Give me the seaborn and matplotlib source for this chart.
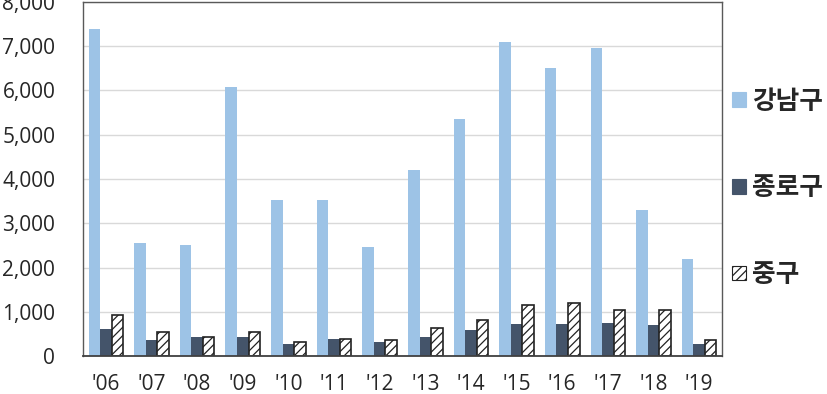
import pandas as pd
import matplotlib.pyplot as plt
import seaborn as sns

years = ["'06", "'07", "'08", "'09", "'10", "'11", "'12",
         "'13", "'14", "'15", "'16", "'17", "'18", "'19"]
districts = ["강남구", "종로구", "중구"]
gangnam = [7400, 2560, 2500, 6070, 3530, 3530, 2460, 4210, 5360, 7100, 6510, 6950, 3290, 2200]
jongno = [600, 370, 425, 430, 280, 390, 310, 430, 580, 730, 730, 755, 695, 280]
junggu = [930, 550, 425, 550, 310, 390, 365, 625, 810, 1160, 1190, 1045, 1045, 365]
colors = ["#9DC3E6", "#44546A", "#FFFFFF"]

df = pd.DataFrame({
    "year": years * 3,
    "district": [d for d in districts for _ in years],
    "value": gangnam + jongno + junggu,
})

sns.set_theme(style="white")
plt.rcParams["font.family"] = ["Open Sans", "Noto Sans CJK KR", "DejaVu Sans"]
plt.rcParams["hatch.color"] = "#333333"
plt.rcParams["hatch.linewidth"] = 0.9

fig = plt.figure(figsize=(8.27, 3.94), dpi=100)
ax = fig.add_axes([0.1004, 0.0964, 0.7726, 0.8986])

sns.barplot(data=df, x="year", y="value", hue="district", hue_order=districts,
            palette=colors, width=0.76, saturation=1, errorbar=None, ax=ax,
            linewidth=0, legend=False)

# 중구: hatched white bars with dark outline
for bar in ax.containers[2]:
    bar.set_hatch("////")
    bar.set_edgecolor("#222222")
    bar.set_linewidth(1.2)

ax.set_ylim(0, 8000)
ax.set_xlim(-0.5, len(years) - 0.5)
ax.set_yticks(range(0, 8001, 1000))
ax.set_yticklabels([f"{v:,}" for v in range(0, 8001, 1000)])
ax.yaxis.grid(True, color="#D9D9D9", linewidth=1)
ax.set_axisbelow(True)
ax.set_xlabel("")
ax.set_ylabel("")
ax.tick_params(axis="y", length=0, pad=20, labelsize=15, labelcolor="#262626")
ax.tick_params(axis="x", length=0, pad=13, labelsize=15, labelcolor="#262626")
for side in ["top", "right", "left"]:
    ax.spines[side].set_color("#595959")
    ax.spines[side].set_linewidth(1)
ax.spines["bottom"].set_color("#404040")
ax.spines["bottom"].set_linewidth(1.3)

handles = []
for i, d in enumerate(districts):
    h = plt.Rectangle((0, 0), 1, 1, facecolor=colors[i],
                      edgecolor="#222222" if i == 2 else colors[i],
                      hatch="////" if i == 2 else None, linewidth=0.8)
    handles.append(h)
leg = fig.legend(handles, districts, loc="center left", bbox_to_anchor=(0.885, 0.523),
                 frameon=False, borderpad=0, borderaxespad=0,
                 handlelength=0.55, handleheight=0.5, handletextpad=0.22,
                 labelspacing=2.32, prop={"family": ["Noto Sans CJK KR"], "size": 18.5,
                                          "weight": "bold"})
for t in leg.get_texts():
    t.set_color("#262626")

fig.savefig("out.png", dpi=100)
